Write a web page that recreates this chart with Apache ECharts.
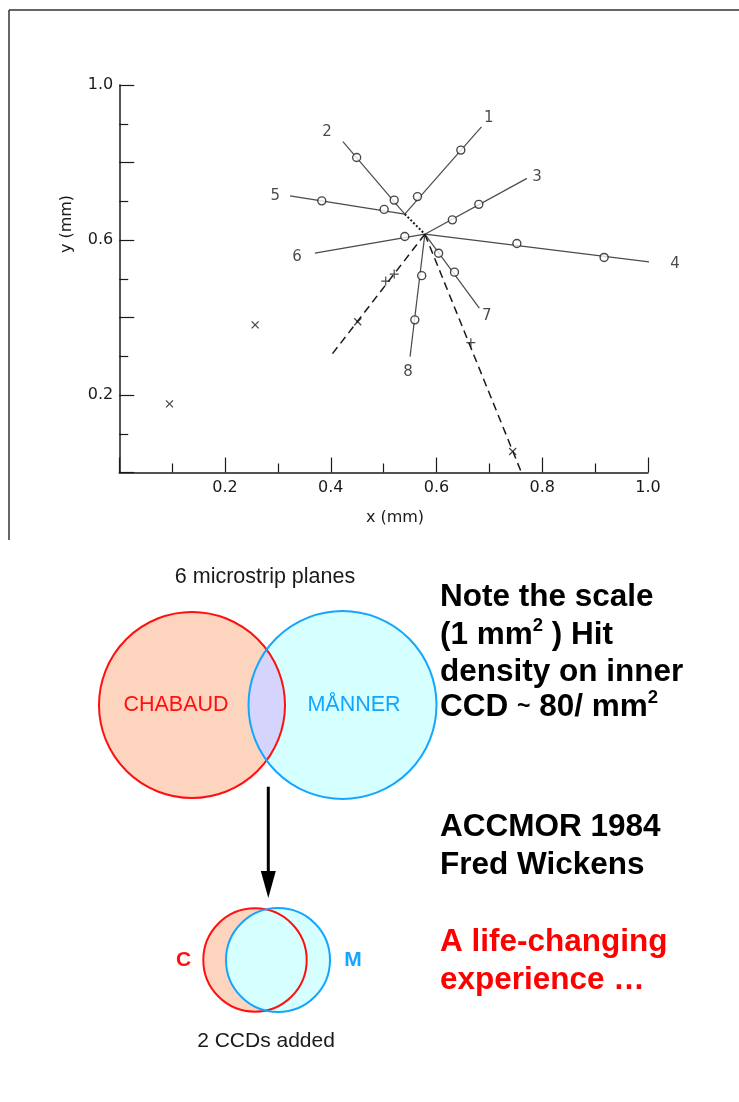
<!DOCTYPE html>
<html><head><meta charset="utf-8">
<script src="https://cdn.jsdelivr.net/npm/echarts@6/dist/echarts.min.js"></script>
<style>html,body{margin:0;padding:0;background:#fff}#c{width:739px;height:1102px}</style>
</head><body><div id="c"></div>
<script>
// ---- data (mm) ----
const primaryVertex = [0.578, 0.615];
const secondaryVertex = [0.540, 0.667];
const trackNames = ['1','2','3','4','5','6','7','8'];
const trackOrigins = ['secondary','secondary','primary','primary','secondary','primary','primary','primary'];
const trackEnds = [[0.685,0.892],[0.423,0.854],[0.771,0.759],[1.023,0.540],[0.323,0.714],[0.370,0.566],[0.681,0.424],[0.550,0.299]];
const trackLabelPos = [[0.699,0.915],[0.393,0.879],[0.790,0.763],[1.051,0.538],[0.295,0.714],[0.336,0.556],[0.695,0.404],[0.546,0.259]];
const circleHits = [[0.564,0.712],[0.646,0.832],[0.449,0.813],[0.520,0.703],[0.630,0.652],[0.680,0.692],[0.752,0.591],[0.917,0.555],[0.383,0.701],[0.501,0.679],[0.540,0.609],[0.604,0.566],[0.634,0.517],[0.572,0.508],[0.559,0.394]];
const dashedEnds = [[0.399,0.299],[0.760,0.002]];
const plusHits = [[0.504,0.494],[0.520,0.512],[0.665,0.335]];
const crossHits = [[0.451,0.389],[0.744,0.054],[0.257,0.381],[0.095,0.177]];
const xTickLabels = ['0.2','0.4','0.6','0.8','1.0'];
const yTickLabels = ['0.2','0.6','1.0'];

const chart = echarts.init(document.getElementById('c'), null, {renderer:'canvas'});
const plotFont = 'DejaVu Sans';
const slideFont = 'Liberation Sans';
const ink = '#1a1a1a';

const series = [];
trackEnds.forEach((end, i) => {
  const start = trackOrigins[i] === 'primary' ? primaryVertex : secondaryVertex;
  series.push({type:'line', data:[start, end], symbol:'none', clip:false, silent:true, z:2,
    lineStyle:{color:'#4a4a4a', width:1.2}});
});
series.push({type:'line', data:[secondaryVertex, primaryVertex], symbol:'none', clip:false, silent:true, z:2,
  lineStyle:{color:ink, width:2, type:[2,2]}});
dashedEnds.forEach(end => {
  series.push({type:'line', data:[primaryVertex, end], symbol:'none', clip:false, silent:true, z:2,
    lineStyle:{color:ink, width:1.5, type:[8,5]}});
});
series.push({type:'scatter', data:circleHits, symbol:'circle', symbolSize:8, clip:false, silent:true, z:5,
  itemStyle:{color:'#fff', borderColor:ink, borderWidth:1.4}});
series.push({type:'scatter', data:plusHits, symbol:'path://M5,0L5,10M0,5L10,5', symbolSize:9, clip:false, silent:true, z:5,
  itemStyle:{color:ink, borderColor:ink, borderWidth:1.2}});
series.push({type:'scatter', data:crossHits, symbol:'path://M0,0L10,10M10,0L0,10', symbolSize:7, clip:false, silent:true, z:5,
  itemStyle:{color:ink, borderColor:ink, borderWidth:1.3}});
series.push({type:'scatter', data:trackLabelPos.map((p,i)=>({value:p, name:trackNames[i]})), symbolSize:0, clip:false, silent:true, z:6,
  label:{show:true, position:'inside', formatter:'{b}', fontFamily:plotFont, fontSize:15, color:ink}});

// Venn geometry
function lens(c1x, c2x, cy, r1, r2, n) {
  const d = c2x - c1x;
  const a = (r1*r1 - r2*r2 + d*d) / (2*d);
  const t1 = Math.acos(a / r1), t2 = Math.acos((d - a) / r2);
  const pts = [];
  for (let k = 0; k <= n; k++) { const t = -t1 + 2*t1*k/n; pts.push([c1x + r1*Math.cos(t), cy + r1*Math.sin(t)]); }
  for (let k = 0; k <= n; k++) { const t = Math.PI - t2 + 2*t2*k/n; pts.push([c2x + r2*Math.cos(t), cy + r2*Math.sin(t)]); }
  return pts;
}
const red = '#ff1010', blue = '#14a6ff', peach = '#fdd5bf', cyan = '#d6ffff', lav = '#d4d4fc';
const FS = 31.5;
const boldTxt = (x, y, text, color, rich) => ({type:'text', x, y, z:10,
  style:{text, fill:color, fontFamily:slideFont, fontWeight:'bold', fontSize:FS, align:'left', verticalAlign:'middle', rich}});
const supRich = {b:{fontFamily:slideFont, fontWeight:'bold', fontSize:FS, lineHeight:37, fill:'#000'},
                 s:{fontFamily:slideFont, fontWeight:'bold', fontSize:18.5, lineHeight:18, verticalAlign:'top', fill:'#000'},
                 t:{fontFamily:slideFont, fontWeight:'bold', fontSize:23, lineHeight:37, fill:'#000'}};

const graphic = [
  {type:'line', shape:{x1:9, y1:10, x2:739, y2:10}, style:{stroke:'#333', lineWidth:1.5}},
  {type:'line', shape:{x1:9, y1:10, x2:9, y2:540}, style:{stroke:'#333', lineWidth:1.5}},
  {type:'text', x:67, y:224, rotation:Math.PI/2, style:{text:'y (mm)', fontFamily:plotFont, fontSize:16, fill:ink, align:'center', verticalAlign:'middle'}},
  {type:'text', x:395, y:518, style:{text:'x (mm)', fontFamily:plotFont, fontSize:16, fill:ink, align:'center', verticalAlign:'middle'}},
  // Venn 1
  {type:'text', x:265, y:577, style:{text:'6 microstrip planes', fontFamily:slideFont, fontSize:21.5, fill:'#1a1a1a', align:'center', verticalAlign:'middle'}},
  {type:'circle', shape:{cx:192, cy:705, r:93}, style:{fill:peach}},
  {type:'circle', shape:{cx:342.5, cy:705, r:94}, style:{fill:cyan}},
  {type:'polygon', shape:{points:lens(192, 342.5, 705, 93, 94, 60)}, style:{fill:lav}},
  {type:'circle', shape:{cx:192, cy:705, r:93}, style:{fill:'none', stroke:red, lineWidth:2}},
  {type:'circle', shape:{cx:342.5, cy:705, r:94}, style:{fill:'none', stroke:blue, lineWidth:2}},
  {type:'text', x:176, y:705, style:{text:'CHABAUD', fontFamily:slideFont, fontSize:21.5, fill:red, align:'center', verticalAlign:'middle'}},
  {type:'text', x:354, y:705, style:{text:'MÅNNER', fontFamily:slideFont, fontSize:21.5, fill:blue, align:'center', verticalAlign:'middle'}},
  // arrow
  {type:'line', shape:{x1:268.3, y1:786.7, x2:268.3, y2:874}, style:{stroke:'#000', lineWidth:3}},
  {type:'polygon', shape:{points:[[260.8,871],[275.8,871],[268.3,898]]}, style:{fill:'#000'}},
  // Venn 2
  {type:'circle', shape:{cx:255, cy:960, r:51.7}, style:{fill:peach}},
  {type:'circle', shape:{cx:278, cy:960, r:52}, style:{fill:cyan}},
  {type:'circle', shape:{cx:255, cy:960, r:51.7}, style:{fill:'none', stroke:red, lineWidth:2}},
  {type:'circle', shape:{cx:278, cy:960, r:52}, style:{fill:'none', stroke:blue, lineWidth:2}},
  {type:'text', x:183.5, y:960, style:{text:'C', fontFamily:slideFont, fontWeight:'bold', fontSize:21, fill:red, align:'center', verticalAlign:'middle'}},
  {type:'text', x:353, y:960, style:{text:'M', fontFamily:slideFont, fontWeight:'bold', fontSize:21, fill:blue, align:'center', verticalAlign:'middle'}},
  {type:'text', x:266, y:1041, style:{text:'2 CCDs added', fontFamily:slideFont, fontSize:21, fill:'#1a1a1a', align:'center', verticalAlign:'middle'}},
  // right-hand text
  boldTxt(440, 597, 'Note the scale', '#000'),
  boldTxt(440, 635, '{b|(1 mm}{s|2}{b| ) Hit}', '#000', supRich),
  boldTxt(440, 672, 'density on inner', '#000'),
  boldTxt(440, 707, '{b|CCD }{t|~}{b| 80/ mm}{s|2}', '#000', supRich),
  boldTxt(440, 827, 'ACCMOR 1984', '#000'),
  boldTxt(440, 865.5, 'Fred Wickens', '#000'),
  boldTxt(440, 942, 'A life-changing', '#ff0000'),
  boldTxt(440, 980.5, 'experience …', '#ff0000')
];

chart.setOption({
  animation:false,
  backgroundColor:'#fff',
  grid:{left:119.25, right:91, top:85, bottom:629.5, containLabel:false},
  xAxis:{type:'value', min:0, max:1, interval:0.2, splitLine:{show:false},
    axisLine:{show:true, lineStyle:{color:ink, width:1.5}},
    axisTick:{show:true, inside:true, length:15, lineStyle:{color:ink, width:1.2}},
    minorTick:{show:true, splitNumber:2, length:9, lineStyle:{color:ink, width:1.2}},
    axisLabel:{margin:7, fontFamily:plotFont, fontSize:16, color:ink,
      formatter:v => xTickLabels.includes(v.toFixed(1)) ? v.toFixed(1) : ''}},
  yAxis:{type:'value', min:0, max:1, interval:0.2, splitLine:{show:false},
    axisLine:{show:true, lineStyle:{color:ink, width:1.5}},
    axisTick:{show:true, inside:true, length:15, lineStyle:{color:ink, width:1.2}},
    minorTick:{show:true, splitNumber:2, length:9, lineStyle:{color:ink, width:1.2}},
    axisLabel:{margin:6, fontFamily:plotFont, fontSize:16, color:ink,
      formatter:v => yTickLabels.includes(v.toFixed(1)) ? v.toFixed(1) : ''}},
  series,
  graphic
});
</script></body></html>
